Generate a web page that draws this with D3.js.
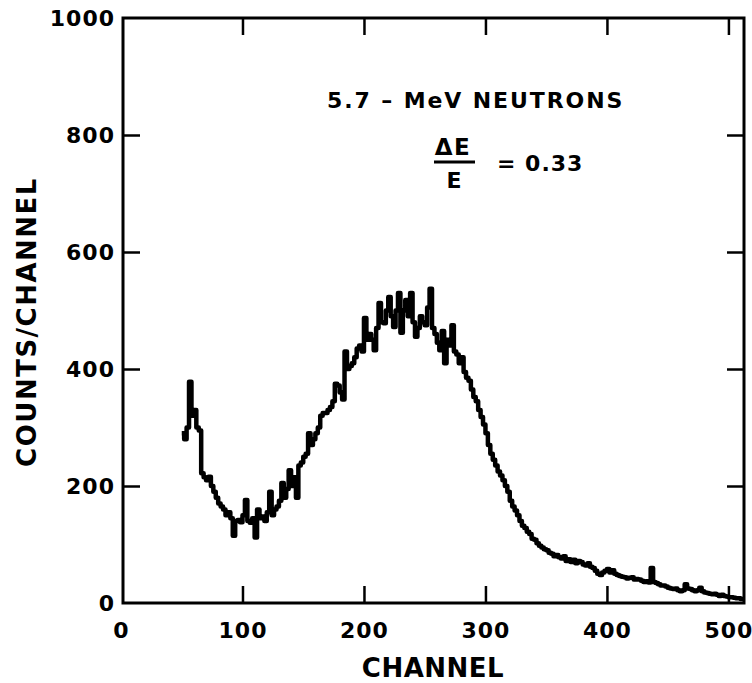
<!DOCTYPE html>
<html>
<head>
<meta charset="utf-8">
<script src="https://cdn.jsdelivr.net/npm/d3@7"></script>
<style>
  body { margin: 0; background: #fff; }
  text { font-family: "DejaVu Sans", "Liberation Sans", Arial, sans-serif; font-weight: bold; fill: #000; }
</style>
</head>
<body>
<div id="chart"></div>
<script>
// Channel numbers (every second channel) and the counts
const channels = [
  50, 52, 54, 56, 58, 60, 62, 64, 66, 68, 70, 72, 74, 76, 78, 80, 82, 84, 86, 88,
  90, 92, 94, 96, 98, 100, 102, 104, 106, 108, 110, 112, 114, 116, 118, 120, 122, 124, 126, 128,
  130, 132, 134, 136, 138, 140, 142, 144, 146, 148, 150, 152, 154, 156, 158, 160, 162, 164, 166, 168,
  170, 172, 174, 176, 178, 180, 182, 184, 186, 188, 190, 192, 194, 196, 198, 200, 202, 204, 206, 208,
  210, 212, 214, 216, 218, 220, 222, 224, 226, 228, 230, 232, 234, 236, 238, 240, 242, 244, 246, 248,
  250, 252, 254, 256, 258, 260, 262, 264, 266, 268, 270, 272, 274, 276, 278, 280, 282, 284, 286, 288,
  290, 292, 294, 296, 298, 300, 302, 304, 306, 308, 310, 312, 314, 316, 318, 320, 322, 324, 326, 328,
  330, 332, 334, 336, 338, 340, 342, 344, 346, 348, 350, 352, 354, 356, 358, 360, 362, 364, 366, 368,
  370, 372, 374, 376, 378, 380, 382, 384, 386, 388, 390, 392, 394, 396, 398, 400, 402, 404, 406, 408,
  410, 412, 414, 416, 418, 420, 422, 424, 426, 428, 430, 432, 434, 436, 438, 440, 442, 444, 446, 448,
  450, 452, 454, 456, 458, 460, 462, 464, 466, 468, 470, 472, 474, 476, 478, 480, 482, 484, 486, 488,
  490, 492, 494, 496, 498, 500, 502, 504, 506, 508, 510, 512
];
const counts = [
  290, 280, 300, 378, 320, 330, 300, 295, 222, 215, 210, 216, 200, 190, 180, 170, 165, 160, 150, 155,
  145, 115, 140, 142, 138, 150, 176, 140, 137, 145, 112, 160, 145, 148, 140, 155, 190, 150, 160, 165,
  175, 205, 180, 195, 227, 200, 215, 180, 235, 240, 250, 255, 290, 270, 280, 290, 300, 320, 325, 325,
  330, 335, 345, 375, 372, 360, 348, 430, 400, 405, 410, 420, 435, 440, 430, 487, 450, 460, 450, 432,
  470, 513, 480, 478, 500, 523, 490, 472, 500, 530, 462, 500, 518, 490, 530, 480, 455, 470, 490, 480,
  475, 505, 537, 470, 460, 445, 432, 465, 410, 450, 440, 475, 430, 425, 410, 420, 395, 385, 380, 365,
  352, 345, 330, 318, 305, 290, 270, 255, 245, 235, 225, 218, 210, 200, 190, 175, 165, 158, 150, 140,
  132, 128, 122, 118, 110, 108, 102, 98, 95, 92, 90, 86, 84, 80, 82, 78, 76, 80, 72, 75,
  70, 74, 68, 72, 70, 66, 64, 68, 62, 60, 55, 50, 48, 52, 55, 58, 52, 56, 50, 48,
  46, 45, 44, 42, 43, 44, 40, 41, 40, 38, 36, 37, 35, 60, 36, 34, 32, 30, 30, 28,
  26, 25, 24, 25, 22, 20, 22, 32, 25, 24, 22, 20, 22, 26, 20, 18, 17, 16, 15, 16,
  14, 12, 14, 12, 11, 10, 10, 9, 8, 8, 7, 7
];
const xTicks = [0, 100, 200, 300, 400, 500];
const yTicks = [0, 200, 400, 600, 800, 1000];

const width = 752, height = 683;
const frameLeft = 123, frameRight = 744, frameTop = 18, frameBottom = 603;
const tickLen = 17;

const svg = d3.select("#chart").append("svg")
  .attr("width", width)
  .attr("height", height);

const x = d3.scaleLinear().domain([0, 512]).range([121, 743]);
const y = d3.scaleLinear().domain([0, 1000]).range([frameBottom, frameTop]);

// hide tick marks that would sit on the frame itself
const hideEdgeTicks = g => g.selectAll(".tick")
  .filter(d => d === 0 || d === 1000)
  .select("line").remove();

// Bottom axis with labels, ticks pointing inward
svg.append("g")
  .attr("transform", `translate(0,${frameBottom})`)
  .call(d3.axisBottom(x).tickValues(xTicks).tickFormat(d3.format("d")).tickSize(-tickLen).tickPadding(19))
  .call(g => g.select(".domain").remove())
  .call(hideEdgeTicks)
  .call(g => g.selectAll("line").attr("stroke", "#000").attr("stroke-width", 2.5))
  .call(g => g.selectAll("text").style("font-size", "22px").attr("letter-spacing", "1px").attr("fill", "#000"));

// Left axis with labels
svg.append("g")
  .attr("transform", `translate(${frameLeft},0)`)
  .call(d3.axisLeft(y).tickValues(yTicks).tickFormat(d3.format("d")).tickSize(-tickLen).tickPadding(8))
  .call(g => g.select(".domain").remove())
  .call(hideEdgeTicks)
  .call(g => g.selectAll("line").attr("stroke", "#000").attr("stroke-width", 2.5))
  .call(g => g.selectAll("text").style("font-size", "22px").attr("letter-spacing", "1px").attr("fill", "#000"));

// Top and right ticks, no labels
svg.append("g")
  .attr("transform", `translate(0,${frameTop})`)
  .call(d3.axisTop(x).tickValues(xTicks.slice(1)).tickSize(-tickLen).tickFormat(""))
  .call(g => g.select(".domain").remove())
  .call(g => g.selectAll("line").attr("stroke", "#000").attr("stroke-width", 2.5));

svg.append("g")
  .attr("transform", `translate(${frameRight},0)`)
  .call(d3.axisRight(y).tickValues(yTicks.slice(1, -1)).tickSize(-tickLen).tickFormat(""))
  .call(g => g.select(".domain").remove())
  .call(g => g.selectAll("line").attr("stroke", "#000").attr("stroke-width", 2.5));

// Frame
svg.append("rect")
  .attr("x", frameLeft)
  .attr("y", frameTop)
  .attr("width", frameRight - frameLeft)
  .attr("height", frameBottom - frameTop)
  .attr("fill", "none")
  .attr("stroke", "#000")
  .attr("stroke-width", 3);

// Spectrum as a step line
const data = channels.map((c, i) => ({ c, v: counts[i] }));
const line = d3.line()
  .x(d => x(d.c))
  .y(d => y(d.v))
  .curve(d3.curveStepAfter);

svg.append("path")
  .datum(data)
  .attr("d", line)
  .attr("fill", "none")
  .attr("stroke", "#000")
  .attr("stroke-width", 4.5)
  .attr("stroke-linejoin", "round");

// Axis titles
svg.append("text")
  .attr("x", 433)
  .attr("y", 677)
  .attr("text-anchor", "middle")
  .attr("letter-spacing", "0.5px")
  .style("font-size", "26px")
  .text("CHANNEL");

svg.append("text")
  .attr("transform", "translate(36,322) rotate(-90)")
  .attr("text-anchor", "middle")
  .attr("letter-spacing", "1.5px")
  .style("font-size", "26px")
  .text("COUNTS/CHANNEL");

// Annotation
svg.append("text")
  .attr("x", 327)
  .attr("y", 108)
  .attr("letter-spacing", "1.9px")
  .style("font-size", "22px")
  .text("5.7 \u2013 MeV NEUTRONS");

svg.append("text")
  .attr("x", 453)
  .attr("y", 155)
  .attr("text-anchor", "middle")
  .attr("letter-spacing", "1.5px")
  .style("font-size", "23px")
  .text("\u0394E");

svg.append("line")
  .attr("x1", 434).attr("x2", 475)
  .attr("y1", 162).attr("y2", 162)
  .attr("stroke", "#000")
  .attr("stroke-width", 3);

svg.append("text")
  .attr("x", 454)
  .attr("y", 188)
  .attr("text-anchor", "middle")
  .style("font-size", "22px")
  .text("E");

svg.append("text")
  .attr("x", 497)
  .attr("y", 171)
  .attr("letter-spacing", "1px")
  .style("font-size", "22px")
  .text("= 0.33");
</script>
</body>
</html>
